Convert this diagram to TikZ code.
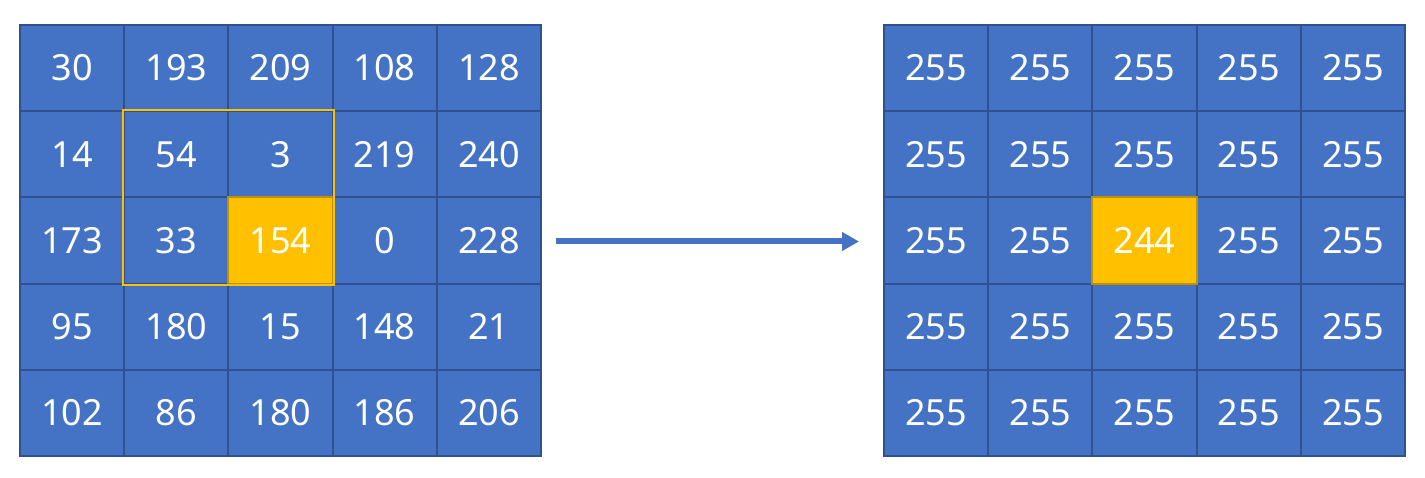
\documentclass[tikz,border=0pt]{standalone}
\usepackage{fontspec}
\setmainfont{Noto Sans}
\usetikzlibrary{arrows.meta}
\definecolor{cellblue}{HTML}{4472C4}
\definecolor{cellline}{HTML}{2F528F}
\definecolor{hotfill}{HTML}{FFC000}
\definecolor{hotline}{HTML}{BF9000}
\tikzset{
    cell/.style = {draw = cellline, fill = cellblue, line width = 2pt, text = white,
        minimum width = 104.2pt, minimum height = 86.2pt, inner sep = 0pt,
        font = \fontsize{36}{40}\selectfont},
    hot/.style = {fill = hotfill, draw = hotline}
}
\begin{document}
\begin{tikzpicture}[x = 1pt, y = -1pt]
        \useasboundingbox (0, 0) rectangle (1425, 478);
        % input image
        \foreach \v [count = \k from 0] in {30,193,209,108,128,14,54,3,219,240,173,33,154,0,228,95,180,15,148,21,102,86,180,186,206} {
            \pgfmathtruncatemacro{\r}{div(\k, 5)}
            \pgfmathtruncatemacro{\c}{mod(\k, 5)}
            \node[cell] (l-\r-\c) at (20 + 104.2*\c + 52.1, 25 + 86.2*\r + 43.1) {\v};
        }
        \node[cell, hot] (l-2-2) at (20 + 104.2*2 + 52.1, 25 + 86.2*2 + 43.1) {154};
        \draw[hotfill, line width = 2pt] (l-1-1.north west) rectangle (l-2-2.south east);
        % output image
        \foreach \r in {0,...,4} {
            \foreach \c in {0,...,4} {
                \node[cell] (r-\r-\c) at (884 + 104.2*\c + 52.1, 25 + 86.2*\r + 43.1) {255};
            }
        }
        \node[cell, hot] (r-2-2) at (884 + 104.2*2 + 52.1, 25 + 86.2*2 + 43.1) {244};
        % arrow
        \coordinate (from) at ([xshift = 14pt, yshift = -1pt] l-2-4.east);
        \coordinate (to) at ([xshift = -24pt, yshift = -1pt] r-2-0.west);
        \draw[-{Triangle[length = 17pt, width = 18pt]}, cellblue, line width = 6pt] (from) -- (to);
    \end{tikzpicture}
\end{document}
